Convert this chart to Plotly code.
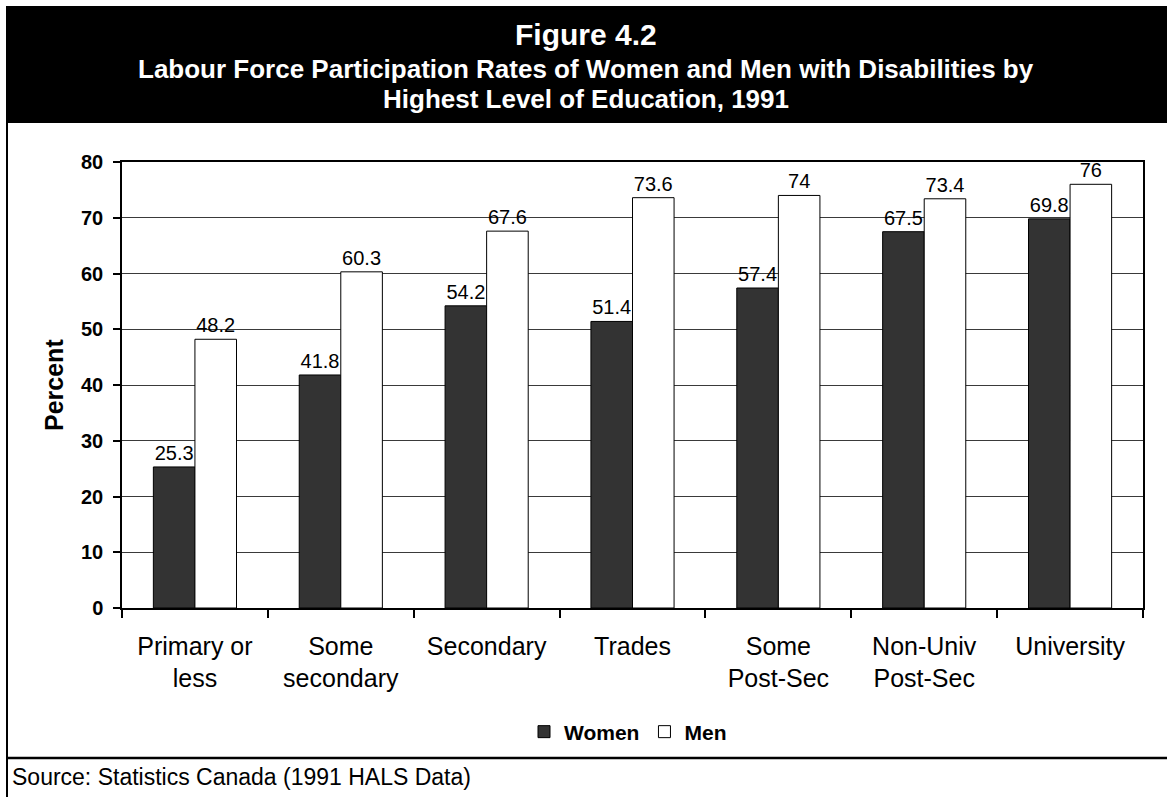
import plotly.graph_objects as go

categories = ["Primary or<br>less", "Some<br>secondary", "Secondary", "Trades",
              "Some<br>Post-Sec", "Non-Univ<br>Post-Sec", "University"]
women = [25.3, 41.8, 54.2, 51.4, 57.4, 67.5, 69.8]
men = [48.2, 60.3, 67.6, 73.6, 74, 73.4, 76]
y_ticks = [0, 10, 20, 30, 40, 50, 60, 70, 80]

W, H = 1167, 797
L, R, T, B = 122, 1143, 162, 608
FONT = "Liberation Sans, Arial, sans-serif"


def px(x):
    return (x - L) / (R - L)


def py(y):
    return (B - y) / (B - T)


fig = go.Figure()
fig.add_trace(go.Bar(
    x=categories, y=women, name="Women",
    marker=dict(color="#333333", line=dict(color="black", width=1)),
    text=[f"{v:g}" for v in women], textposition="outside",
    textfont=dict(family=FONT, size=20, color="black"), cliponaxis=False,
))
fig.add_trace(go.Bar(
    x=categories, y=men, name="Men",
    marker=dict(color="white", line=dict(color="black", width=1)),
    text=[f"{v:g}" for v in men], textposition="outside",
    textfont=dict(family=FONT, size=20, color="black"), cliponaxis=False,
))

shapes = [
    dict(type="rect", xref="paper", yref="paper", x0=px(6), x1=px(1175),
         y0=py(123), y1=py(6), fillcolor="black", line=dict(width=0), layer="above"),
    dict(type="line", xref="paper", yref="paper", x0=px(7), x1=px(7),
         y0=py(6), y1=py(805), line=dict(color="black", width=2)),
    dict(type="line", xref="paper", yref="paper", x0=px(6), x1=px(1175),
         y0=py(758), y1=py(758), line=dict(color="black", width=2.5)),
]

annotations = [
    dict(text="<b>Figure 4.2</b>", xref="paper", yref="paper", x=px(586), y=py(35),
         showarrow=False, xanchor="center", yanchor="middle",
         font=dict(family=FONT, size=30, color="white")),
    dict(text="<b>Labour Force Participation Rates of Women and Men with Disabilities by</b>",
         xref="paper", yref="paper", x=px(586), y=py(69),
         showarrow=False, xanchor="center", yanchor="middle",
         font=dict(family=FONT, size=26, color="white")),
    dict(text="<b>Highest Level of Education, 1991</b>",
         xref="paper", yref="paper", x=px(586), y=py(99),
         showarrow=False, xanchor="center", yanchor="middle",
         font=dict(family=FONT, size=26, color="white")),
    dict(text="Source: Statistics Canada (1991 HALS Data)", xref="paper", yref="paper",
         x=px(10), y=py(777), showarrow=False, xanchor="left", yanchor="middle",
         font=dict(family=FONT, size=23, color="black")),
    dict(text="<b>Percent</b>", xref="paper", yref="paper", x=px(54), y=py(385),
         showarrow=False, xanchor="center", yanchor="middle", textangle=-90,
         font=dict(family=FONT, size=25, color="black")),
]

fig.update_layout(
    width=W, height=H, autosize=False,
    margin=dict(l=L, r=W - R, t=T, b=H - B, pad=0),
    paper_bgcolor="white", plot_bgcolor="white",
    barmode="group", bargap=0.43, bargroupgap=0,
    font=dict(family=FONT, color="black"),
    shapes=shapes, annotations=annotations,
    legend=dict(orientation="h", x=px(628), xanchor="center", y=py(732), yanchor="middle",
                font=dict(family=FONT, size=21, color="black", weight="bold"),
                itemwidth=30, bgcolor="rgba(0,0,0,0)"),
    showlegend=True,
)
fig.update_xaxes(
    showline=True, linecolor="black", linewidth=1.5, mirror=True,
    ticks="outside", tickson="boundaries", ticklen=8, tickcolor="black", tickwidth=1.5,
    tickfont=dict(family=FONT, size=25, color="black"), ticklabelstandoff=15,
    showgrid=False,
)
fig.update_yaxes(
    range=[0, 80], tickvals=y_ticks, showline=True, linecolor="black", linewidth=1.5,
    mirror=True, ticks="outside", ticklen=7, tickcolor="black", tickwidth=1.5,
    tickfont=dict(family=FONT, size=20, color="black", weight="bold"),
    ticklabelstandoff=6,
    showgrid=True, gridcolor="#3a3a3a", gridwidth=1, zeroline=False,
)

fig.write_html("out.html")
